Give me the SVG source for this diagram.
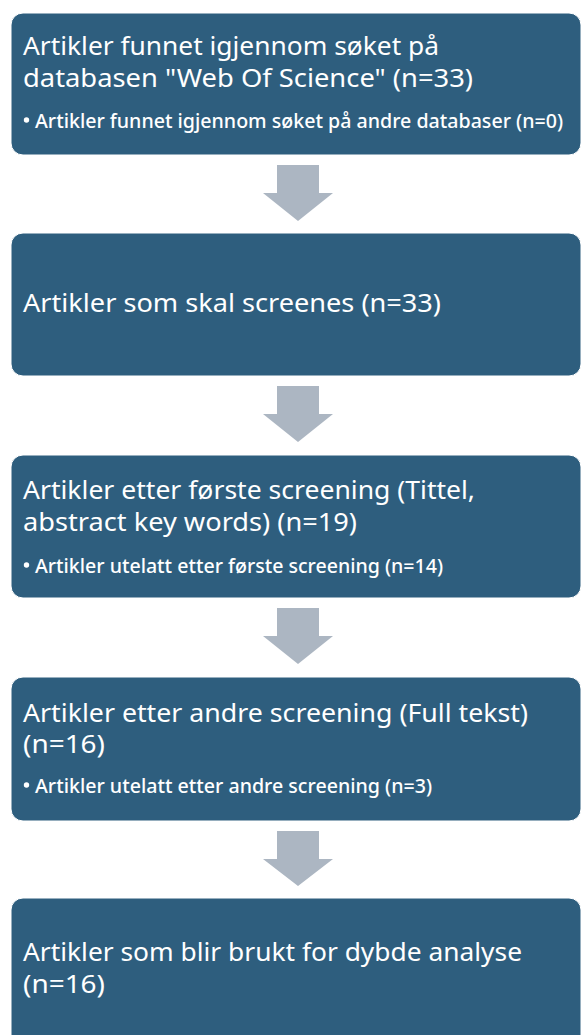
<svg xmlns="http://www.w3.org/2000/svg" width="582" height="1035" viewBox="0 0 582 1035">
<style>
.box{fill:#2E5E7E;stroke:#ffffff;stroke-width:1}
.arr{fill:#ACB6C2}
.t{font-family:"Noto Sans","Open Sans","Liberation Sans",sans-serif;font-size:25.5px;fill:#ffffff}
.s{font-family:"Noto Sans","Open Sans","Liberation Sans",sans-serif;font-size:20px;font-weight:500;fill:#ffffff}
.dot{fill:#ffffff}
</style>
<rect width="582" height="1035" fill="#ffffff"/>
<g id="connectors">
<polygon class="arr" points="277,165 319,165 319,193 333,193 298,221 263,193 277,193"/>
<polygon class="arr" points="277,386 319,386 319,414 333,414 298,442 263,414 277,414"/>
<polygon class="arr" points="277,608 319,608 319,636 333,636 298,664 263,636 277,636"/>
<polygon class="arr" points="277,831 319,831 319,859 333,859 298,886 263,859 277,859"/>
</g>
<g id="node1">
<rect class="box" x="11" y="13" width="570" height="142" rx="12"/>
<text class="t" x="23" y="55" textLength="416" lengthAdjust="spacingAndGlyphs">Artikler funnet igjennom søket på</text>
<text class="t" x="23" y="87" textLength="450" lengthAdjust="spacingAndGlyphs">databasen "Web Of Science" (n=33)</text>
<circle class="dot" cx="26.5" cy="120" r="2.7"/>
<text class="s" x="35" y="128" textLength="528" lengthAdjust="spacingAndGlyphs">Artikler funnet igjennom søket på andre databaser (n=0)</text>
</g>
<g id="node2">
<rect class="box" x="11" y="233" width="570" height="143" rx="12"/>
<text class="t" x="23" y="312" textLength="418" lengthAdjust="spacingAndGlyphs">Artikler som skal screenes (n=33)</text>
</g>
<g id="node3">
<rect class="box" x="11" y="455" width="570" height="143" rx="12"/>
<text class="t" x="23" y="499" textLength="452" lengthAdjust="spacingAndGlyphs">Artikler etter første screening (Tittel,</text>
<text class="t" x="23" y="531" textLength="334" lengthAdjust="spacingAndGlyphs">abstract key words) (n=19)</text>
<circle class="dot" cx="26.5" cy="565" r="2.7"/>
<text class="s" x="35" y="573" textLength="408" lengthAdjust="spacingAndGlyphs">Artikler utelatt etter første screening (n=14)</text>
</g>
<g id="node4">
<rect class="box" x="11" y="677" width="570" height="144" rx="12"/>
<text class="t" x="23" y="722" textLength="505" lengthAdjust="spacingAndGlyphs">Artikler etter andre screening (Full tekst)</text>
<text class="t" x="23" y="753" textLength="82" lengthAdjust="spacingAndGlyphs">(n=16)</text>
<circle class="dot" cx="26.5" cy="785" r="2.7"/>
<text class="s" x="35" y="793" textLength="397" lengthAdjust="spacingAndGlyphs">Artikler utelatt etter andre screening (n=3)</text>
</g>
<g id="node5">
<rect class="box" x="11" y="898" width="570" height="160" rx="12"/>
<text class="t" x="23" y="961" textLength="499" lengthAdjust="spacingAndGlyphs">Artikler som blir brukt for dybde analyse</text>
<text class="t" x="23" y="993" textLength="82" lengthAdjust="spacingAndGlyphs">(n=16)</text>
</g>
</svg>
